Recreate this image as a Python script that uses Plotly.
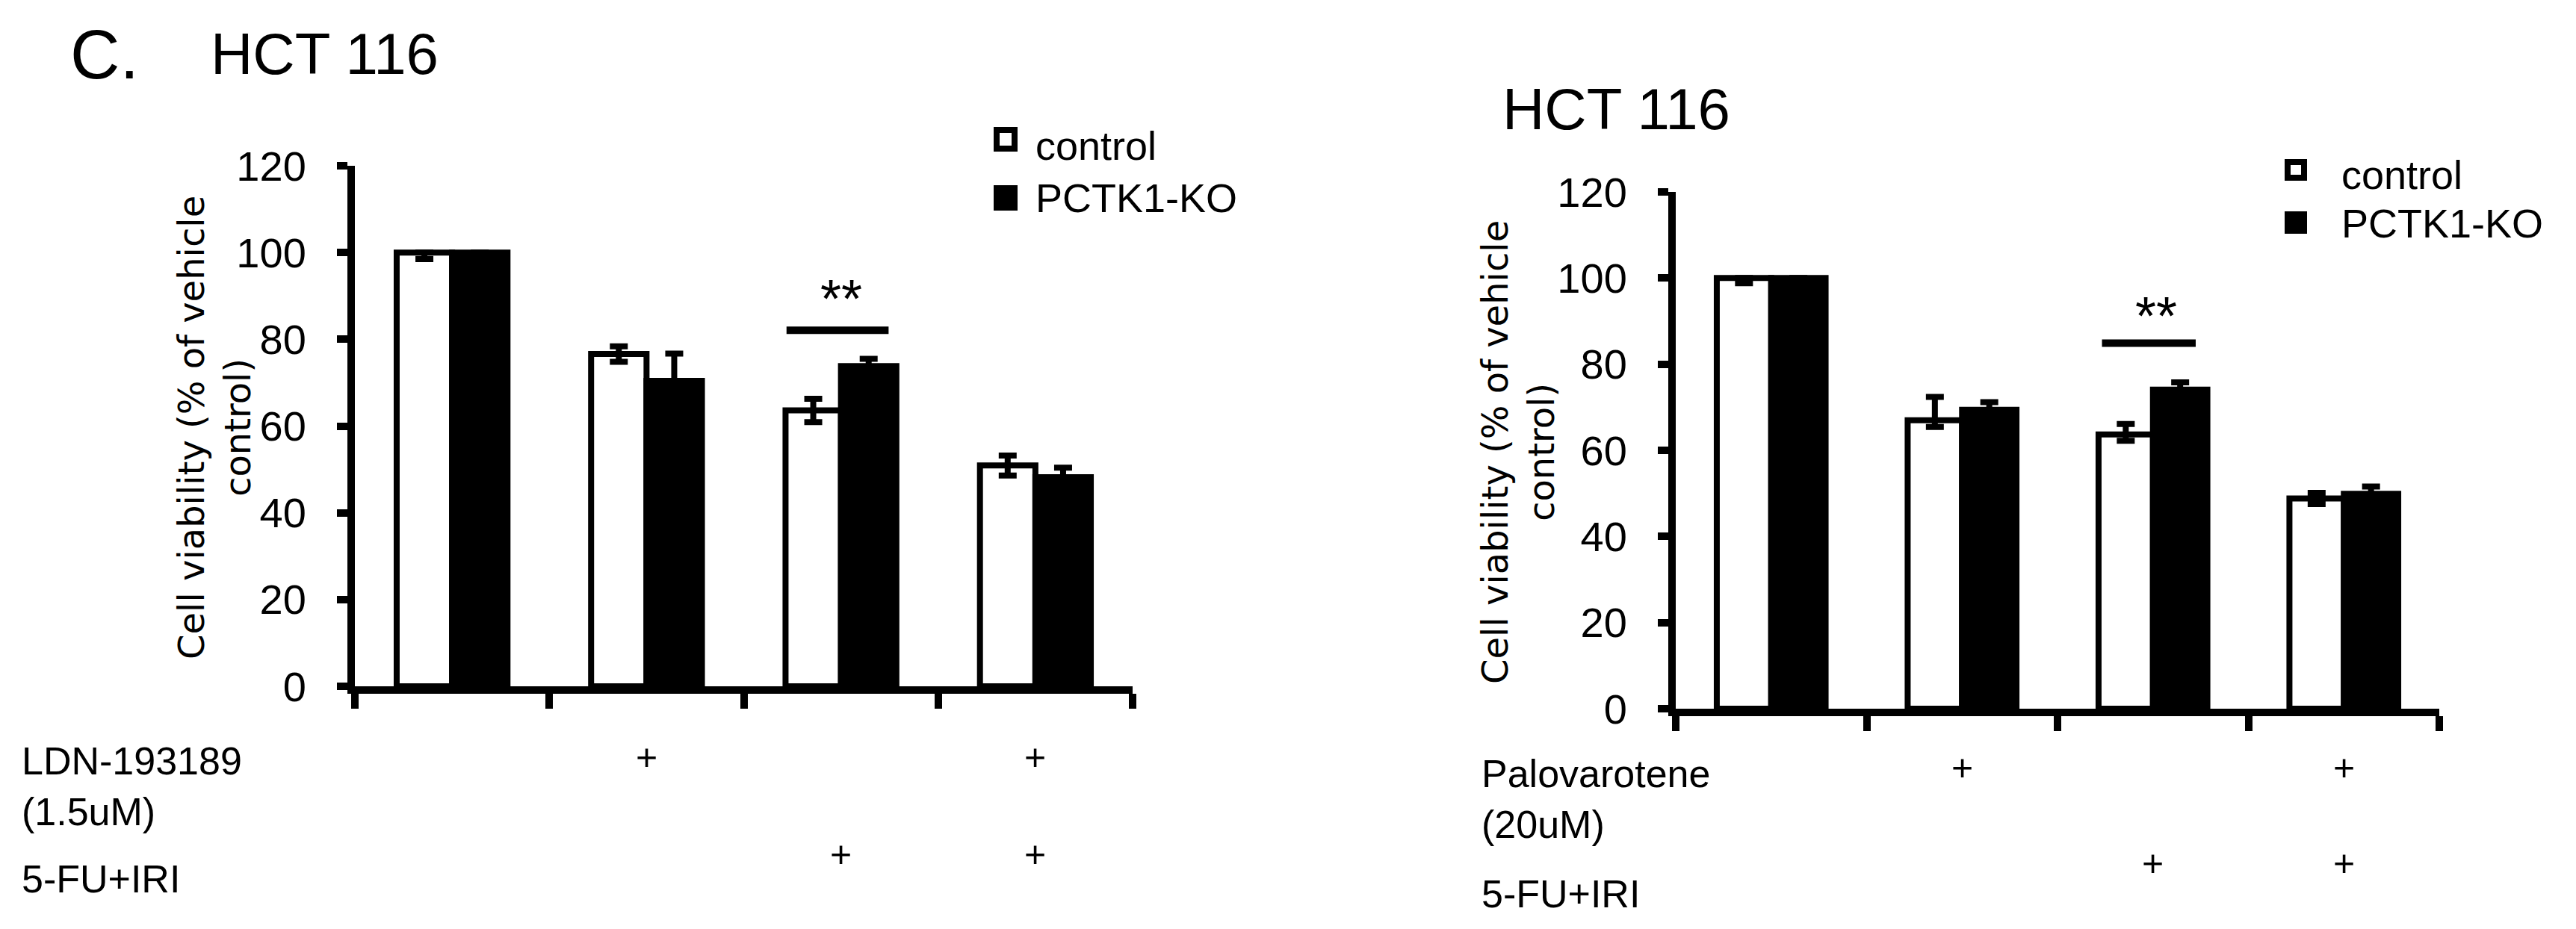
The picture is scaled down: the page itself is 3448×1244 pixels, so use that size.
import plotly.graph_objects as go

# ---------------- data ----------------
categories = ["vehicle", "drug", "5-FU+IRI", "drug + 5-FU+IRI"]
series_names = ["control", "PCTK1-KO"]

left_control = [100, 76.6, 63.6, 50.9]
left_control_err_plus = [0, 1.8, 2.7, 2.3]
left_control_err_minus = [1.5, 1.8, 2.7, 2.3]
left_ko = [100, 70.4, 73.8, 48.2]
left_ko_err = [0, 6.3, 1.7, 2.2]

right_control = [100, 67.0, 63.7, 48.8]
right_control_err_plus = [0, 5.4, 2.4, 1.3]
right_control_err_minus = [1.2, 1.6, 1.5, 1.3]
right_ko = [100, 69.4, 74.1, 49.9]
right_ko_err = [0, 1.8, 1.7, 1.7]

drug_row = ["", "+", "", "+"]
combo_row = ["", "", "+", "+"]

left_drug_label = "LDN-193189<br>(1.5uM)"
right_drug_label = "Palovarotene<br>(20uM)"
combo_label = "5-FU+IRI"
cell_line = "HCT 116"
panel_label = "C."
y_title = "Cell viability (% of vehicle<br>control)"
y_ticks = [0, 20, 40, 60, 80, 100, 120]

sig_category = 2
left_sig_level = 82.1
right_sig_level = 84.9
sig_text = "**"

# ---------------- layout helpers ----------------
W, H = 3448, 1244
FONT = "Liberation Sans, Arial, Helvetica, sans-serif"
TITLE_FONT = "DejaVu Sans, Verdana, sans-serif"


def X(px):
    return px / W


def Y(py):
    return 1 - py / H


fig = go.Figure()

panels = [
    dict(xa="x", ya="y", ctrl=left_control, cp=left_control_err_plus, cm=left_control_err_minus,
         ko=left_ko, ke=left_ko_err),
    dict(xa="x2", ya="y2", ctrl=right_control, cp=right_control_err_plus, cm=right_control_err_minus,
         ko=right_ko, ke=right_ko_err),
]

for p in panels:
    fig.add_trace(go.Bar(
        x=categories, y=p["ctrl"], name=series_names[0], xaxis=p["xa"], yaxis=p["ya"],
        marker=dict(color="white", line=dict(color="black", width=8)),
        error_y=dict(type="data", array=p["cp"], arrayminus=p["cm"], symmetric=False,
                     color="black", thickness=8, width=12),
        showlegend=False,
    ))
    fig.add_trace(go.Bar(
        x=categories, y=p["ko"], name=series_names[1], xaxis=p["xa"], yaxis=p["ya"],
        marker=dict(color="black", line=dict(color="black", width=8)),
        error_y=dict(type="data", array=p["ke"], color="black", thickness=8, width=12),
        showlegend=False,
    ))

xaxis_common = dict(
    type="category", categoryorder="array", categoryarray=categories,
    range=[-0.5, 3.5], showticklabels=False, tickson="boundaries",
    ticks="outside", ticklen=20, tickwidth=10, tickcolor="black",
    showline=True, linewidth=10, linecolor="black", showgrid=False, zeroline=False,
    fixedrange=True,
)
yaxis_common = dict(
    range=[0, 120], tickvals=y_ticks, ticks="outside", ticklen=14, tickwidth=10,
    tickcolor="black", showline=True, linewidth=10, linecolor="black",
    showgrid=False, zeroline=False, ticklabelstandoff=30,
    tickfont=dict(family=FONT, size=56, color="black"),
)

fig.update_layout(
    width=W, height=H, margin=dict(l=0, r=0, t=0, b=0, pad=0, autoexpand=False),
    paper_bgcolor="white", plot_bgcolor="white",
    barmode="group", bargap=0.43, bargroupgap=0,
    font=dict(family=FONT, color="black"),
    xaxis=dict(domain=[X(475), X(1516)], anchor="y", **xaxis_common),
    yaxis=dict(domain=[Y(919), Y(222)], anchor="x", **yaxis_common),
    xaxis2=dict(domain=[X(2243), X(3265)], anchor="y2", **xaxis_common),
    yaxis2=dict(domain=[Y(949), Y(257)], anchor="x2", **yaxis_common),
)

ann = []
shapes = []

# titles
ann.append(dict(text=panel_label, x=X(92), y=Y(73), xref="paper", yref="paper",
                xanchor="left", yanchor="middle", showarrow=False,
                font=dict(family=FONT, size=92, color="black")))
ann.append(dict(text=cell_line, x=X(280), y=Y(72), xref="paper", yref="paper",
                xanchor="left", yanchor="middle", showarrow=False,
                font=dict(family=FONT, size=78, color="black")))
ann.append(dict(text=cell_line, x=X(2009), y=Y(146), xref="paper", yref="paper",
                xanchor="left", yanchor="middle", showarrow=False,
                font=dict(family=FONT, size=78, color="black")))

# y titles
for cx, cy in [(287, 573), (2032, 605)]:
    ann.append(dict(text=y_title, x=X(cx), y=Y(cy), xref="paper", yref="paper",
                    xanchor="center", yanchor="middle", showarrow=False, textangle=-90,
                    font=dict(family=TITLE_FONT, size=48, color="black")))

# legends (manual, large squares)
legend_specs = [
    dict(sx0=1330, sx1=1362, c_y=(170, 203), k_y=(248, 282), tx=1384, c_ty=195, k_ty=265),
    dict(sx0=3058, sx1=3088, c_y=(213, 242), k_y=(283, 313), tx=3132, c_ty=234, k_ty=299),
]
for L in legend_specs:
    shapes.append(dict(type="rect", xref="paper", yref="paper",
                       x0=X(L["sx0"] + 4), x1=X(L["sx1"] - 4),
                       y0=Y(L["c_y"][1] - 4), y1=Y(L["c_y"][0] + 4),
                       line=dict(color="black", width=8), fillcolor="white"))
    shapes.append(dict(type="rect", xref="paper", yref="paper",
                       x0=X(L["sx0"]), x1=X(L["sx1"]),
                       y0=Y(L["k_y"][1]), y1=Y(L["k_y"][0]),
                       line=dict(width=0), fillcolor="black"))
    ann.append(dict(text=series_names[0], x=X(L["tx"]), y=Y(L["c_ty"]), xref="paper", yref="paper",
                    xanchor="left", yanchor="middle", showarrow=False,
                    font=dict(family=FONT, size=54, color="black")))
    ann.append(dict(text=series_names[1], x=X(L["tx"]), y=Y(L["k_ty"]), xref="paper", yref="paper",
                    xanchor="left", yanchor="middle", showarrow=False,
                    font=dict(family=FONT, size=54, color="black")))

# significance bars
for xa, ya, lvl, off0, off1, toff, ty in [
    ("x", "y", left_sig_level, -0.28, 0.245, 0.0, 89.4),
    ("x2", "y2", right_sig_level, -0.267, 0.224, 0.018, 91.2),
]:
    shapes.append(dict(type="line", xref=xa, yref=ya,
                       x0=sig_category + off0, x1=sig_category + off1, y0=lvl, y1=lvl,
                       line=dict(color="black", width=10)))
    ann.append(dict(text=sig_text, x=sig_category + toff, y=ty, xref=xa, yref=ya,
                    xanchor="center", yanchor="middle", showarrow=False,
                    font=dict(family=FONT, size=72, color="black")))

# treatment table below axes
rows = [
    dict(xa="x", label=left_drug_label, lx=27, ly=1053, cy=1177, y1=1014, y2=1144),
    dict(xa="x2", label=right_drug_label, lx=1981, ly=1070, cy=1197, y1=1028, y2=1156),
]
for r in rows:
    ann.append(dict(text=r["label"], x=X(r["lx"]), y=Y(r["ly"]), xref="paper", yref="paper",
                    xanchor="left", yanchor="middle", align="left", showarrow=False,
                    font=dict(family=FONT, size=52, color="black")))
    ann.append(dict(text=combo_label, x=X(r["lx"]), y=Y(r["cy"]), xref="paper", yref="paper",
                    xanchor="left", yanchor="middle", showarrow=False,
                    font=dict(family=FONT, size=52, color="black")))
    for i, cat in enumerate(categories):
        if drug_row[i]:
            ann.append(dict(text=drug_row[i], x=cat, y=Y(r["y1"]), xref=r["xa"], yref="paper",
                            xanchor="center", yanchor="middle", showarrow=False,
                            font=dict(family=FONT, size=50, color="black")))
        if combo_row[i]:
            ann.append(dict(text=combo_row[i], x=cat, y=Y(r["y2"]), xref=r["xa"], yref="paper",
                            xanchor="center", yanchor="middle", showarrow=False,
                            font=dict(family=FONT, size=50, color="black")))

fig.update_layout(annotations=ann, shapes=shapes)
fig.write_html("out.html")
